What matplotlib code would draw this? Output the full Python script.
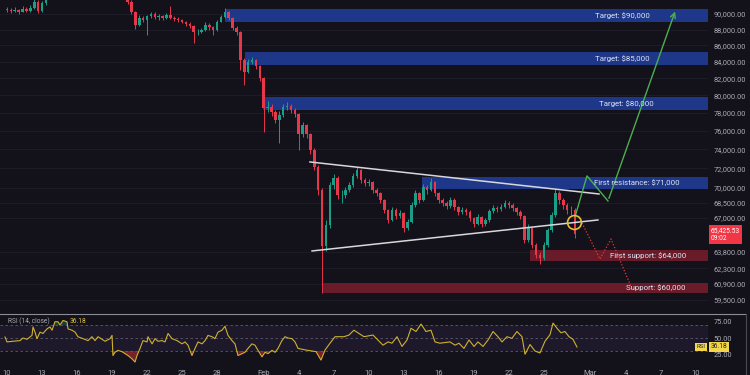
import numpy as np
import matplotlib.pyplot as plt
from matplotlib.ticker import FixedLocator, NullLocator, FuncFormatter
from matplotlib.lines import Line2D

plt.rcParams['font.family'] = ['Roboto', 'DejaVu Sans']

# 8h BTC candles from Jan 10 (prices in $ thousands)
closes = [90.5, 90.4, 90.5, 90.3, 90.6, 90.4, 90.8, 91.6, 90.4, 91.4,
          92.1, 92.8, 93.5, 94.6, 95.2, 94.8, 95.6, 96.3, 97.1, 96.8,
          97.4, 96.9, 95.8, 95.2, 95.6, 94.9, 94.3, 93.6, 92.9, 93.4,
          92.8, 91.6, 90.3, 88.6, 89.5, 89.2, 89.7, 90.0, 89.6, 89.7,
          89.5, 89.9, 89.5, 89.4, 89.2, 89.0, 88.7, 88.5, 87.7, 87.7,
          87.9, 88.6, 88.3, 87.9, 89.0, 89.6, 90.3, 89.5, 88.2, 87.7,
          84.2, 82.8, 84.0, 84.2, 83.5, 82.0, 78.6, 78.7, 78.1, 77.2,
          77.8, 78.7, 78.8, 78.3, 77.9, 75.6, 76.6, 75.6, 73.9, 72.1,
          69.8, 64.3, 66.3, 70.3, 71.0, 69.3, 69.3, 69.8, 70.3, 71.2,
          71.8, 70.8, 70.5, 70.6, 69.8, 69.5, 68.8, 67.8, 66.8, 67.8,
          67.2, 67.5, 66.0, 66.6, 68.3, 69.5, 68.8, 70.1, 69.8, 70.6,
          69.5, 68.8, 68.5, 68.2, 68.8, 68.1, 67.6, 67.8, 67.6, 67.0,
          66.4, 67.1, 66.4, 66.8, 67.7, 68.0, 67.9, 68.1, 68.5, 68.3,
          68.0, 67.6, 67.2, 64.9, 66.0, 64.4, 63.5, 63.2, 64.4, 65.8,
          67.3, 69.5, 68.8, 68.3, 67.8, 67.8, 65.42553]
highs = [90.9, 90.8, 90.9, 90.7, 91.0, 90.9, 91.2, 92.4, 91.8, 91.7,
         92.6, 93.2, 93.9, 95.0, 95.7, 95.6, 96.0, 96.8, 97.6, 97.5,
         97.9, 97.7, 97.0, 96.0, 96.1, 95.8, 95.1, 94.5, 93.8, 93.7,
         93.5, 92.9, 91.8, 90.4, 89.9, 89.8, 89.9, 90.3, 90.2, 90.0,
         89.9, 90.1, 91.0, 89.8, 89.6, 89.4, 89.1, 88.9, 88.6, 88.1,
         88.2, 88.9, 88.8, 88.4, 89.2, 89.9, 90.8, 90.4, 89.6, 88.4,
         87.8, 84.4, 84.3, 84.6, 84.3, 83.6, 82.1, 79.4, 79.0, 78.3,
         78.2, 79.0, 79.2, 79.0, 78.5, 78.0, 77.0, 76.8, 75.8, 74.1,
         72.3, 70.0, 66.8, 70.6, 71.4, 71.2, 69.8, 70.1, 70.6, 71.5,
         72.1, 71.9, 71.0, 70.9, 70.7, 70.0, 69.6, 68.9, 67.9, 68.1,
         68.0, 67.8, 67.6, 66.9, 68.6, 69.8, 69.6, 70.4, 70.3, 71.0,
         70.7, 69.6, 69.0, 68.7, 69.1, 69.0, 68.2, 68.1, 68.0, 67.8,
         67.1, 67.4, 67.2, 67.0, 67.9, 68.3, 68.2, 68.4, 68.8, 68.7,
         68.5, 68.1, 67.8, 67.3, 66.4, 66.1, 64.6, 63.8, 64.7, 66.0,
         67.6, 69.9, 69.7, 69.0, 68.5, 68.2, 68.0]
lows = [90.2, 90.1, 90.2, 90.0, 90.2, 90.2, 90.3, 90.6, 90.1, 90.3,
        91.2, 92.0, 92.6, 93.3, 94.4, 94.5, 94.6, 95.4, 96.1, 96.4,
        96.6, 96.5, 95.5, 94.8, 95.0, 94.6, 93.9, 93.2, 92.5, 92.6,
        92.3, 91.3, 90.0, 88.1, 88.4, 88.9, 87.3, 89.5, 89.3, 89.2,
        89.2, 89.3, 89.3, 89.1, 88.9, 88.8, 88.5, 88.2, 86.3, 87.3,
        87.5, 87.8, 88.0, 87.3, 87.8, 88.9, 89.5, 89.2, 87.9, 87.3,
        83.0, 81.2, 82.6, 83.7, 83.1, 81.7, 75.9, 78.1, 77.7, 76.9,
        74.7, 77.5, 78.3, 78.0, 77.5, 73.9, 75.3, 75.2, 73.5, 71.8,
        69.3, 60.1, 63.9, 66.0, 69.9, 68.9, 68.5, 69.0, 69.6, 70.1,
        71.0, 70.5, 70.2, 70.2, 69.5, 69.2, 68.5, 67.5, 66.5, 66.7,
        66.9, 67.0, 65.6, 65.8, 66.5, 68.1, 68.5, 68.7, 69.4, 69.7,
        69.2, 68.5, 68.2, 67.9, 68.0, 67.8, 67.3, 67.4, 67.3, 66.7,
        66.1, 66.3, 66.1, 66.2, 66.6, 67.5, 67.6, 67.7, 68.0, 68.0,
        67.7, 67.3, 66.9, 64.6, 64.7, 64.1, 63.2, 62.7, 63.0, 64.2,
        65.6, 67.1, 68.4, 67.9, 67.4, 67.3, 65.1]

# RSI(14) readings: day offset from Jan 10, value
rsi_day = [-0.17, 0.0, 0.51, 1.11, 1.37, 1.71, 2.14, 2.23, 2.40, 2.57, 2.83, 3.08,
           3.43, 3.68, 3.86, 4.11, 4.37, 4.54, 4.80, 5.14, 5.23, 5.57, 5.83, 6.08,
           6.51, 6.94, 7.28, 7.54, 7.80, 8.14, 8.40, 8.83, 9.00, 9.08, 9.25, 9.51,
           9.85, 10.11, 10.37, 10.71, 10.97, 11.14, 11.40, 11.65, 12.00, 12.08, 12.43,
           12.68, 12.94, 13.28, 13.54, 13.80, 14.14, 14.57, 15.00, 15.25, 15.51, 15.85,
           16.11, 16.37, 16.71, 16.97, 17.22, 17.57, 17.82, 18.08, 18.42, 18.68, 18.94,
           19.28, 19.54, 19.79, 20.14, 20.39, 20.65, 20.99, 21.25, 21.51, 21.85, 22.11,
           22.37, 22.71, 22.97, 23.22, 23.56, 23.82, 24.08, 24.42, 24.68, 24.94, 25.62,
           26.48, 26.91, 27.25, 27.68, 28.11, 28.88, 29.31, 29.73, 30.16, 30.59, 31.36,
           32.22, 32.65, 32.99, 33.42, 33.85, 34.28, 34.62, 35.05, 35.48, 35.90, 36.33,
           36.68, 37.10, 37.96, 38.39, 38.73, 39.16, 39.59, 40.02, 40.36, 40.79, 41.22,
           41.65, 42.07, 42.42, 42.84, 43.27, 43.70, 44.13, 44.39, 44.82, 45.24, 45.67,
           46.10, 46.53, 46.79, 47.13, 47.47, 47.81, 48.16, 48.50, 48.84]
rsi_val = [51.5, 44, 45, 46, 50, 48, 54, 67, 59, 49, 59, 57,
           64, 67, 62, 75, 75, 70, 77, 75, 64, 62, 59, 52,
           49, 46, 52, 46, 52, 48, 45, 49, 54, 23, 28, 31,
           29, 26, 23, 18, 13, 23, 34, 46, 44, 52, 41,
           49, 45, 46, 44, 57, 49, 46, 41, 44, 39, 23,
           34, 44, 41, 46, 54, 52, 49, 59, 62, 68, 54,
           46, 41, 23, 26, 28, 34, 41, 39, 31, 21, 28,
           26, 31, 28, 34, 46, 52, 50, 49, 44, 34, 31.5,
           29, 16, 31.5, 42, 52, 52, 54.6, 62, 57, 52, 54.6,
           39, 44, 42, 52, 37, 47, 65, 60, 71.5, 60, 62,
           44, 42, 44, 39, 42, 34, 47, 37, 44, 37, 47,
           60, 52, 44, 52, 49.5, 60, 52, 25, 40, 30, 27,
           45, 55, 73, 65, 58, 60, 52, 48, 36.18]

# zones: (x start day, low $k, high $k, label)
blue_zones = [(18.68, 88.96, 90.66, 'Target: $90,000'),
              (20.39, 83.6, 85.2, 'Target: $85,000'),
              (21.94, 78.3, 79.85, 'Target: $80,000'),
              (35.56, 69.9, 71.1, 'First resistance: $71,000')]
red_zones = [(44.82, 62.97, 63.96, 'First support: $64,000'),
             (27.08, 60.06, 61.0, 'Support: $60,000')]
label_day = [52.7, 52.7, 53.1, 54.0, 54.9, 55.6]

# triangle lines and projections (day, $k)
upper_line = ([25.96, 50.73], [72.65, 69.36])
lower_line = ([26.14, 50.64], [63.87, 66.80])
bull_path = ([48.67, 49.70, 51.50, 57.33], [67.09, 71.2, 68.66, 90.66])
bear_path = ([49.27, 50.81, 51.76, 53.56], [66.51, 63.13, 64.99, 60.45])
pivot = (48.59, 66.61)

price_ticks = [90000, 88000, 86000, 84000, 82000, 80000, 78000, 76000, 74000,
               72000, 70000, 68500, 67000, 63800, 62300, 60900, 59500]
date_pos = [0, 3, 6, 9, 12, 15, 18, 22, 25, 28, 31, 34, 37, 40, 43, 46, 50, 53, 56, 59]
date_lbl = ['10', '13', '16', '19', '22', '25', '28', 'Feb', '4', '7', '10', '13',
            '16', '19', '22', '25', 'Mar', '4', '7', '10']

bg = '#131119'
grid = '#1f1d28'
txt = '#a9abb5'
up_c, dn_c = '#1a9e88', '#e8364a'

fig = plt.figure(figsize=(7.5, 3.75), dpi=100, facecolor=bg)
ax = fig.add_axes([0, 1 - 314 / 375, 708 / 750, 314 / 375], facecolor=bg)
rax = fig.add_axes([0, 8 / 375, 708 / 750, 52 / 375], facecolor=bg)

xmin, xmax = -0.6, 60.07

# candles
c = np.array(closes) * 1000
h = np.array(highs) * 1000
l = np.array(lows) * 1000
o = np.concatenate([[90600], c[:-1]])
t = np.arange(len(c)) / 3
cols = np.where(c >= o, up_c, dn_c)
ax.vlines(t, l, h, colors=cols, lw=0.7, zorder=3)
ax.bar(t, np.abs(c - o), bottom=np.minimum(o, c), width=0.22, color=cols, lw=0, zorder=3)

ax.set_yscale('log')
ax.set_ylim(58300, 91840)
ax.set_xlim(xmin, xmax)
ax.yaxis.set_major_locator(FixedLocator(price_ticks))
ax.yaxis.set_minor_locator(NullLocator())
ax.yaxis.set_major_formatter(FuncFormatter(lambda v, p: f'{v:,.2f}'))
ax.yaxis.tick_right()
ax.tick_params(axis='y', length=0, pad=4, labelsize=5.3, labelcolor=txt)
ax.set_xticks([])
for s in ax.spines.values():
    s.set_visible(False)
for pt in price_ticks:
    ax.axhline(pt, color=grid, lw=0.6, zorder=0)

# zones
zones = blue_zones + red_zones
for k, (x0, lo, hi, lab) in enumerate(zones):
    fc = '#1f3a8f' if k < 4 else '#6e1c2b'
    ax.fill_between([x0, xmax], lo * 1000, hi * 1000, color=fc, alpha=0.95, lw=0, zorder=2)
    ax.text(label_day[k], np.sqrt(lo * hi) * 1000, lab, color='#dde2f0', fontsize=5.7,
            ha='center', va='center', zorder=6)

# triangle
ax.plot(upper_line[0], np.array(upper_line[1]) * 1000, color='#d8d8dc', lw=1.1, zorder=4)
ax.plot(lower_line[0], np.array(lower_line[1]) * 1000, color='#d8d8dc', lw=1.1, zorder=4)

# projections
bx, by = bull_path[0], np.array(bull_path[1]) * 1000
ax.plot(bx[:-1], by[:-1], color='#4caf50', lw=1.0, zorder=5)
ax.annotate('', xy=(bx[-1], by[-1]), xytext=(bx[-2], by[-2]),
            arrowprops=dict(arrowstyle='->', color='#4caf50', lw=1.0, mutation_scale=9), zorder=5)
ax.plot(bear_path[0], np.array(bear_path[1]) * 1000, color='#e53935', lw=0.9, ls=(0, (1, 1.5)), zorder=5)
ax.plot(pivot[0], pivot[1] * 1000, 'o', ms=10, mfc='none', mec='#e2c038', mew=1.2, zorder=6)

# last price tag
ax.text(1.004, c[-1], f'{c[-1]:,.2f}\n09:02', transform=ax.get_yaxis_transform(),
        color='white', fontsize=4.8, va='center', ha='left', linespacing=1.1,
        bbox=dict(boxstyle='square,pad=0.3', fc='#f23645', ec='none'), clip_on=False)

# RSI pane
r = np.array(rsi_val)
rd = np.array(rsi_day)
rax.set_xlim(xmin, xmax)
rax.set_ylim(5.4, 85.4)
rax.axhspan(30, 70, color='#7e57c2', alpha=0.1, lw=0)
for lv in (70, 50, 30):
    rax.axhline(lv, color='#5d5a6a', lw=0.6, ls=(0, (3, 3)))
rax.fill_between(rd, r, 30, where=r < 30, interpolate=True, color='#f23645', alpha=0.45, lw=0)
rax.fill_between(rd, r, 70, where=r > 70, interpolate=True, color='#26a69a', alpha=0.3, lw=0)
rax.plot(rd, r, color='#cfb22c', lw=0.8)
rax.yaxis.tick_right()
rax.set_yticks([75, 50, 25])
rax.set_yticklabels(['75.00', '50.00', '25.00'])
rax.tick_params(axis='y', length=0, pad=4, labelsize=5.3, labelcolor=txt)
rax.set_xticks(date_pos)
rax.set_xticklabels(date_lbl)
rax.tick_params(axis='x', length=0, pad=2, labelsize=5.5, labelcolor=txt)
for s in rax.spines.values():
    s.set_visible(False)
rax.text(0.011, 0.87, 'RSI (14, close)', transform=rax.transAxes, color=txt, fontsize=4.8,
         va='center')
rax.text(0.098, 0.87, f'{r[-1]:.2f}', transform=rax.transAxes, color='#e3c53a', fontsize=4.8,
         va='center')
rax.text(0.997, r[-1], 'RSI', transform=rax.get_yaxis_transform(), color='#222', fontsize=4.3,
         ha='right', va='center', bbox=dict(boxstyle='square,pad=0.25', fc='#f2d64b', ec='none'))
rax.text(1.004, r[-1], f'{r[-1]:.2f}', transform=rax.get_yaxis_transform(), color='#222',
         fontsize=4.8, ha='left', va='center', clip_on=False,
         bbox=dict(boxstyle='square,pad=0.25', fc='#f2d64b', ec='none'))

# pane separators
fig.add_artist(Line2D([0, 745 / 750], [1 - 314 / 375] * 2, color='#8a8c96', lw=0.8))
fig.add_artist(Line2D([746 / 750] * 2, [0, 1 - 314 / 375], color='#4a4a55', lw=0.8))

fig.savefig('out.png', dpi=100, facecolor=bg)
